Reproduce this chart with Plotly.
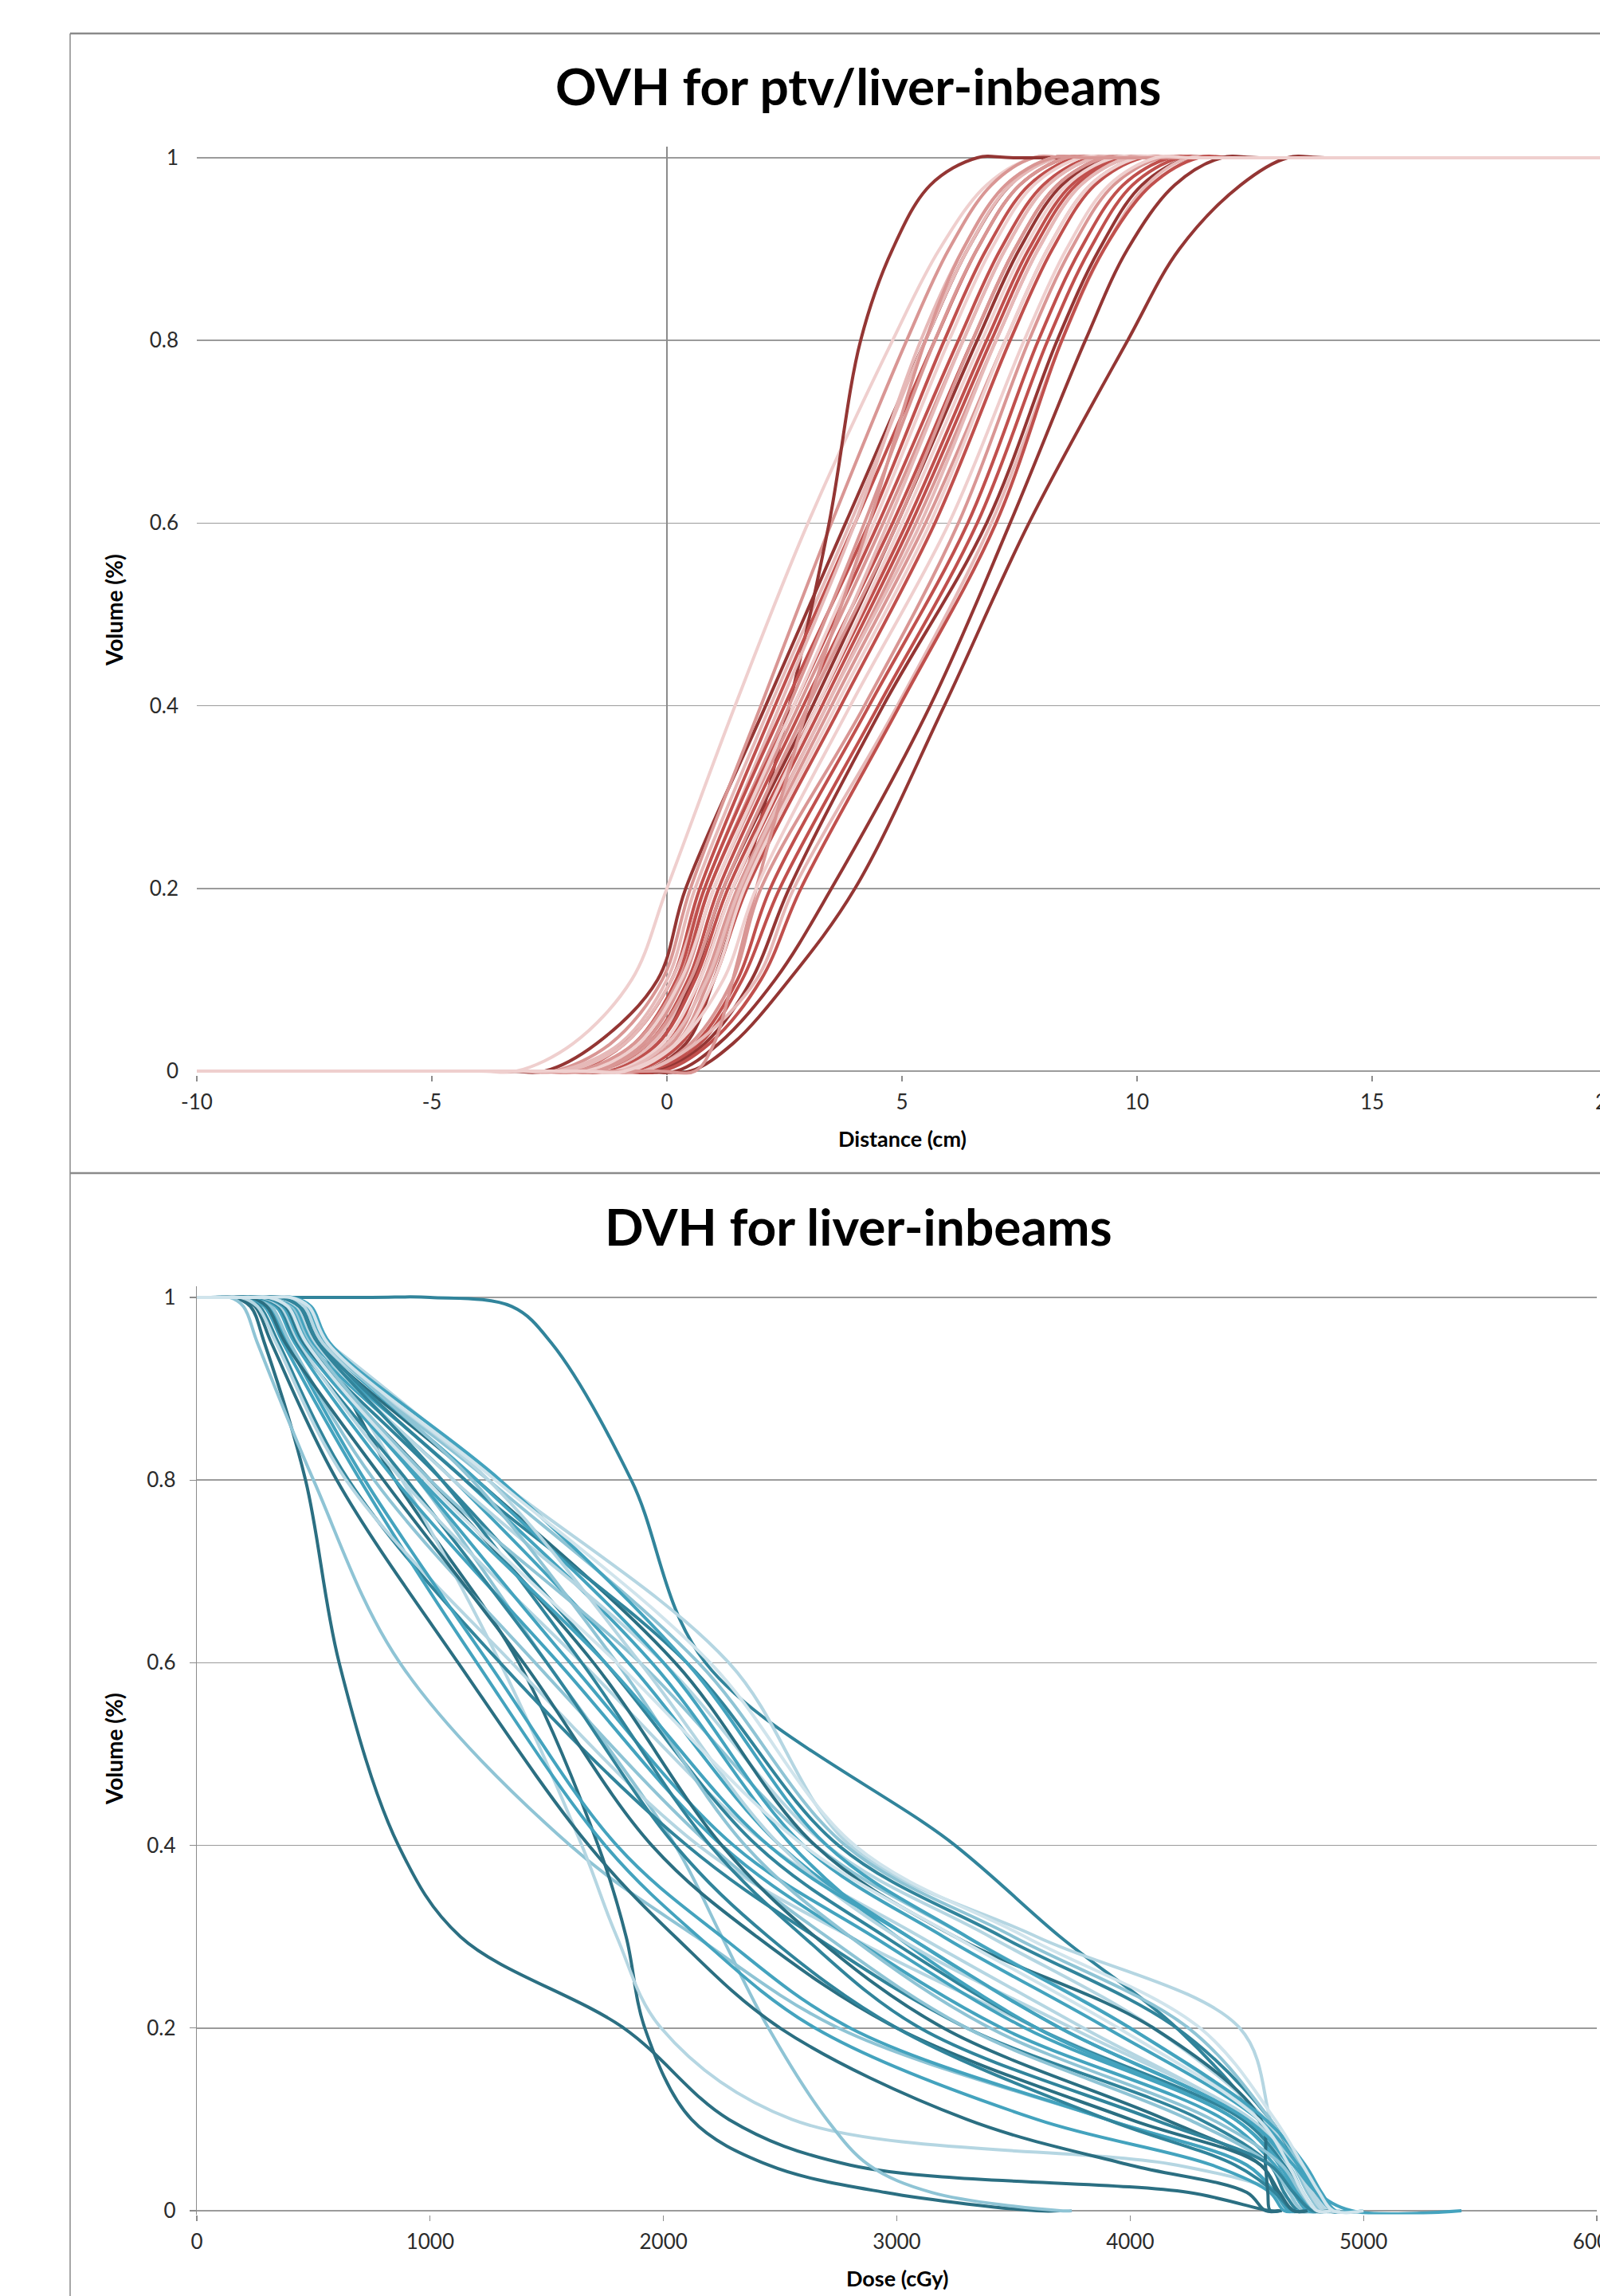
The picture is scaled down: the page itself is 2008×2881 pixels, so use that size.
import plotly.graph_objects as go

# ---------------- OVH (top chart) ----------------
# volume fraction levels shared by every OVH curve
OVH_VOLUME = [0, 0, 0, 0.03, 0.1, 0.2, 0.4, 0.6, 0.8, 0.9, 0.97, 1, 1, 1]
# distance (cm) at each of the levels above, one list per structure
OVH_01 = [-10, -4.0, -3.2, -2.0, -0.75, 0.0, 1.45, 3.0, 4.8, 5.8, 6.8, 7.8, 8.6, 20]
OVH_02 = [-10, -3.4, -2.6, -1.5, -0.2, 0.4, 2.1, 3.8, 5.5, 6.4, 7.3, 8.2, 9.0, 20]
OVH_03 = [-10, -3.2, -2.4, -1.2, -0.1, 0.5, 2.0, 3.5, 5.1, 6.0, 6.9, 7.8, 8.6, 20]
OVH_04 = [-10, -3.1, -2.3, -1.0, 0.0, 0.6, 2.2, 3.9, 5.5, 6.4, 7.3, 8.3, 9.1, 20]
OVH_05 = [-10, -1.3, -0.5, 0.4, 1.0, 1.6, 2.6, 3.45, 4.12, 4.8, 5.6, 6.6, 7.4, 20]
OVH_06 = [-10, -2.8, -2.0, -0.9, 0.1, 0.7, 2.3, 4.0, 5.7, 6.6, 7.5, 8.5, 9.3, 20]
OVH_07 = [-10, -2.9, -2.1, -0.9, 0.1, 0.8, 2.4, 4.0, 5.4, 6.3, 7.2, 8.2, 9.0, 20]
OVH_08 = [-10, -2.6, -1.8, -0.7, 0.2, 0.8, 2.5, 4.3, 5.9, 6.8, 7.7, 8.7, 9.5, 20]
OVH_09 = [-10, -2.7, -1.9, -0.7, 0.25, 0.9, 2.6, 4.2, 5.7, 6.6, 7.5, 8.5, 9.3, 20]
OVH_10 = [-10, -2.3, -1.5, -0.5, 0.3, 0.9, 2.7, 4.5, 6.2, 7.1, 8.0, 9.0, 9.8, 20]
OVH_11 = [-10, -2.4, -1.6, -0.5, 0.35, 1.0, 2.8, 4.6, 6.3, 7.2, 8.1, 9.1, 9.9, 20]
OVH_12 = [-10, -2.5, -1.7, -0.6, 0.3, 1.0, 2.7, 4.4, 6.0, 6.9, 7.8, 8.8, 9.6, 20]
OVH_13 = [-10, -2.2, -1.4, -0.4, 0.45, 1.1, 2.9, 4.8, 6.5, 7.4, 8.3, 9.3, 10.1, 20]
OVH_14 = [-10, -2.1, -1.3, -0.3, 0.5, 1.2, 3.0, 4.7, 6.3, 7.2, 8.1, 9.1, 9.9, 20]
OVH_15 = [-10, -2.0, -1.2, -0.2, 0.55, 1.2, 3.1, 4.9, 6.6, 7.5, 8.4, 9.4, 10.2, 20]
OVH_16 = [-10, -2.0, -1.2, -0.2, 0.6, 1.3, 3.2, 5.1, 6.8, 7.7, 8.6, 9.6, 10.4, 20]
OVH_17 = [-10, -2.3, -1.5, -0.4, 0.5, 1.2, 3.0, 4.9, 6.5, 7.4, 8.3, 9.3, 10.1, 20]
OVH_18 = [-10, -1.8, -1.0, 0.0, 0.7, 1.4, 3.3, 5.2, 6.9, 7.8, 8.7, 9.7, 10.5, 20]
OVH_19 = [-10, -1.9, -1.1, -0.1, 0.7, 1.4, 3.2, 5.0, 6.7, 7.6, 8.5, 9.5, 10.3, 20]
OVH_20 = [-10, -1.7, -0.9, 0.1, 0.8, 1.5, 3.4, 5.3, 7.0, 7.9, 8.8, 9.8, 10.6, 20]
OVH_21 = [-10, -1.6, -0.8, 0.2, 0.9, 1.6, 3.5, 5.5, 7.2, 8.1, 9.0, 10.0, 10.8, 20]
OVH_22 = [-10, -1.8, -1.0, 0.0, 0.85, 1.55, 3.4, 5.4, 7.0, 7.9, 8.8, 9.8, 10.6, 20]
OVH_23 = [-10, -1.5, -0.7, 0.3, 1.0, 1.7, 3.7, 5.7, 7.3, 8.2, 9.1, 10.1, 10.9, 20]
OVH_24 = [-10, -1.6, -0.8, 0.2, 1.0, 1.65, 3.6, 5.6, 7.2, 8.1, 9.0, 10.0, 10.8, 20]
OVH_25 = [-10, -1.3, -0.5, 0.5, 1.4, 2.0, 4.2, 6.2, 7.7, 8.6, 9.5, 10.5, 11.3, 20]
OVH_26 = [-10, -1.2, -0.4, 0.6, 1.5, 2.2, 4.3, 6.4, 7.9, 8.8, 9.7, 10.7, 11.5, 20]
OVH_27 = [-10, -1.1, -0.3, 0.7, 1.6, 2.4, 4.5, 6.6, 8.1, 9.0, 9.9, 10.9, 11.7, 20]
OVH_28 = [-10, -1.0, -0.2, 0.8, 1.8, 2.6, 4.6, 6.8, 8.3, 9.2, 10.1, 11.1, 11.9, 20]
OVH_29 = [-10, -1.3, -0.5, 0.6, 1.9, 2.7, 4.9, 6.9, 8.4, 9.3, 10.2, 11.1, 11.9, 20]
OVH_30 = [-10, -0.9, -0.1, 0.9, 2.0, 2.85, 4.95, 7.0, 8.4, 9.3, 10.3, 11.3, 12.1, 20]
OVH_31 = [-10, -0.6, 0.2, 1.1, 2.3, 3.5, 5.6, 7.3, 8.9, 9.8, 10.8, 11.8, 12.6, 20]
OVH_32 = [-10, -0.3, 0.5, 1.4, 2.6, 4.0, 5.9, 7.7, 9.8, 10.9, 12.2, 13.2, 14.0, 20]
OVH_33 = [-10, -0.2, 0.6, 1.0, 1.4, 1.9, 3.0, 4.3, 5.5, 6.3, 7.2, 8.2, 9.0, 20]
OVH_34 = [-10, -1.7, -0.9, 0.2, 1.2, 1.9, 3.9, 6.0, 7.6, 8.5, 9.4, 10.4, 11.2, 20]

OVH_CURVES = [OVH_01, OVH_02, OVH_03, OVH_04, OVH_05, OVH_06, OVH_07, OVH_08, OVH_09,
              OVH_10, OVH_11, OVH_12, OVH_13, OVH_14, OVH_15, OVH_16, OVH_17, OVH_18,
              OVH_19, OVH_20, OVH_21, OVH_22, OVH_23, OVH_24, OVH_25, OVH_26, OVH_27,
              OVH_28, OVH_29, OVH_30, OVH_31, OVH_32, OVH_33, OVH_34]
OVH_SHADE = [4, 0, 2, 3, 0, 1, 3, 1, 2, 1, 2, 4, 1, 3, 0, 1, 2, 1,
             4, 2, 2, 3, 1, 4, 2, 1, 1, 0, 3, 1, 0, 0, 2, 4]

OVH_X_TICKS = [-10, -5, 0, 5, 10, 15, 20]
OVH_X_LABELS = ["-10", "-5", "0", "5", "10", "15", "20"]

# ---------------- DVH (bottom chart) ----------------
DVH_VOLUME = [1, 1, 1, 0.99, 0.95, 0.8, 0.6, 0.4, 0.3, 0.2, 0.1, 0.05, 0.02, 0, 0]
# dose (cGy) at each of the levels above, one list per patient
DVH_01 = [0, 750, 1000, 1350, 1520, 1862, 2180, 3250, 3700, 4200, 4550, 4640, 4700, 4760, 4820]
DVH_02 = [0, 80, 160, 230, 290, 466, 610, 864, 1130, 1830, 2280, 2800, 4250, 4600, 4650]
DVH_03 = [0, 60, 140, 200, 260, 500, 870, 1600, 2140, 2750, 3900, 4500, 4620, 4700, 4760]
DVH_04 = [0, 200, 300, 400, 520, 850, 1380, 1720, 1840, 1920, 2120, 2450, 2950, 3600, 3700]
DVH_05 = [0, 200, 300, 400, 520, 880, 1300, 1650, 1800, 1990, 2550, 4200, 4640, 4740, 4800]
DVH_06 = [0, 180, 260, 350, 450, 950, 1500, 2050, 2250, 2450, 2700, 2880, 3150, 3700, 3750]
DVH_07 = [0, 150, 230, 330, 560, 1290, 2280, 2800, 3600, 4470, 4600, 4650, 4690, 4730, 4800]
DVH_08 = [0, 100, 180, 250, 320, 600, 1120, 1680, 2050, 2500, 3300, 4000, 4500, 4580, 4640]
DVH_09 = [0, 120, 200, 270, 350, 650, 1300, 2100, 2650, 3300, 4300, 4600, 4660, 4720, 4780]
DVH_10 = [0, 140, 220, 290, 370, 700, 1200, 1750, 2150, 2650, 3600, 4350, 4600, 4660, 4720]
DVH_11 = [0, 100, 190, 260, 340, 640, 1350, 2150, 2800, 3600, 4450, 4640, 4700, 4760, 4820]
DVH_12 = [0, 160, 240, 310, 390, 720, 1250, 1800, 2250, 2800, 3900, 4500, 4620, 4680, 4740]
DVH_13 = [0, 170, 250, 320, 400, 760, 1450, 2200, 2700, 3300, 4250, 4600, 4680, 4740, 4800]
DVH_14 = [0, 150, 230, 300, 380, 800, 1400, 1950, 2400, 3000, 4000, 4560, 4630, 4700, 4750]
DVH_15 = [0, 180, 260, 340, 420, 850, 1550, 2250, 2800, 3450, 4400, 4620, 4700, 4760, 4820]
DVH_16 = [0, 190, 270, 350, 430, 900, 1500, 2050, 2450, 3000, 3900, 4450, 4620, 4700, 4760]
DVH_17 = [0, 200, 280, 360, 440, 880, 1650, 2450, 3100, 3800, 4500, 4660, 4720, 4780, 4840]
DVH_18 = [0, 210, 290, 370, 450, 950, 1600, 2300, 2900, 3550, 4450, 4640, 4710, 4770, 4830]
DVH_19 = [0, 220, 300, 380, 460, 1000, 1700, 2250, 2650, 3200, 4150, 4560, 4640, 4700, 4760]
DVH_20 = [0, 220, 300, 385, 465, 1050, 1750, 2400, 2950, 3600, 4480, 4660, 4730, 4790, 4850]
DVH_21 = [0, 240, 320, 400, 480, 1100, 1850, 2500, 3050, 3700, 4500, 4680, 4740, 4800, 4860]
DVH_22 = [0, 250, 330, 410, 490, 1000, 1900, 2650, 3300, 4000, 4560, 4700, 4760, 4820, 4880]
DVH_23 = [0, 260, 340, 420, 500, 1150, 1950, 2550, 3000, 3600, 4450, 4650, 4720, 4790, 4850]
DVH_24 = [0, 270, 350, 430, 510, 1100, 2000, 2700, 3400, 4100, 4580, 4710, 4770, 4830, 4900]
DVH_25 = [0, 280, 360, 440, 520, 1200, 2050, 2650, 3250, 4100, 4560, 4580, 4590, 4600, 4640]
DVH_26 = [0, 290, 370, 450, 530, 1150, 2100, 2750, 3450, 4200, 4600, 4720, 4790, 4850, 4950]
DVH_27 = [0, 300, 380, 460, 540, 1250, 2150, 2780, 3500, 4250, 4600, 4730, 4800, 4860, 4950]
DVH_28 = [0, 310, 390, 470, 550, 1200, 2000, 2600, 3200, 3900, 4550, 4720, 4800, 4860, 4950]
DVH_29 = [0, 330, 410, 490, 570, 1300, 2100, 2700, 3300, 4000, 4580, 4750, 4820, 4880, 5000]
DVH_30 = [0, 300, 380, 460, 540, 1250, 1900, 2500, 3000, 3750, 4520, 4700, 4780, 4850, 4900]
DVH_31 = [0, 320, 400, 480, 560, 1180, 1800, 2350, 2800, 3400, 4350, 4650, 4730, 4800, 4860]
DVH_32 = [0, 280, 360, 440, 520, 1050, 1650, 2200, 2600, 3100, 4100, 4600, 4700, 4780, 4850]
DVH_33 = [0, 230, 310, 390, 470, 960, 1750, 2450, 3050, 3700, 4500, 4700, 4800, 4950, 5420]
DVH_34 = [0, 230, 310, 390, 470, 980, 1800, 2600, 3250, 3950, 4550, 4680, 4740, 4800, 4860]
DVH_35 = [0, 320, 400, 480, 560, 1280, 2200, 2820, 3550, 4300, 4620, 4740, 4810, 4870, 5000]

DVH_CURVES = [DVH_01, DVH_02, DVH_03, DVH_04, DVH_05, DVH_06, DVH_07, DVH_08, DVH_09,
              DVH_10, DVH_11, DVH_12, DVH_13, DVH_14, DVH_15, DVH_16, DVH_17, DVH_18,
              DVH_19, DVH_20, DVH_21, DVH_22, DVH_23, DVH_24, DVH_25, DVH_26, DVH_27,
              DVH_28, DVH_29, DVH_30, DVH_31, DVH_32, DVH_33, DVH_34, DVH_35]
DVH_SHADE = [1, 0, 3, 0, 4, 3, 4, 0, 1, 2, 4, 2, 3, 0, 2, 1, 4, 2,
             0, 1, 2, 3, 2, 4, 0, 1, 3, 2, 2, 4, 3, 1, 2, 5, 5]

DVH_X_TICKS = [0, 1000, 2000, 3000, 4000, 5000, 6000]
Y_TICKS = [0, 0.2, 0.4, 0.6, 0.8, 1]

# ---------------- styling ----------------
RED_SHADES = ["#943634", "#C0504D", "#D99694", "#E6B9B8", "#EFCFCE"]
TEAL_SHADES = ["#2B6F82", "#31849B", "#44A3BE", "#8FC4D5", "#B5D6E2", "#D0E4EC"]
GRID = "#9b9b9b"
AXIS = "#8c8c8c"
TXT = "#2b2b2b"
FONT = "Lato, 'Open Sans', sans-serif"
LW = 4.0

W, H = 2020, 2881


def pxx(v):
    return v / W


def pxy(v):
    return 1 - v / H


fig = go.Figure()

for xs, sh in zip(OVH_CURVES, OVH_SHADE):
    fig.add_trace(go.Scatter(
        x=xs, y=OVH_VOLUME, mode="lines", xaxis="x", yaxis="y",
        line=dict(color=RED_SHADES[sh], width=LW, shape="spline", smoothing=1.0),
        hoverinfo="skip", showlegend=False))

for xs, sh in zip(DVH_CURVES, DVH_SHADE):
    fig.add_trace(go.Scatter(
        x=xs, y=DVH_VOLUME, mode="lines", xaxis="x2", yaxis="y2",
        line=dict(color=TEAL_SHADES[sh], width=LW, shape="spline", smoothing=1.0),
        hoverinfo="skip", showlegend=False))

tickfont = dict(family=FONT, size=26, color=TXT)

fig.update_layout(
    width=W, height=H,
    margin=dict(l=0, r=0, t=0, b=0, pad=0, autoexpand=False),
    paper_bgcolor="white", plot_bgcolor="white",
    showlegend=False,
    font=dict(family=FONT, color=TXT),
    xaxis=dict(domain=[pxx(247), pxx(2017)], range=[-10, 20],
               tickvals=OVH_X_TICKS, ticktext=OVH_X_LABELS,
               showgrid=False, zeroline=True, zerolinecolor=AXIS, zerolinewidth=1.3,
               showline=False, ticks="outside", ticklen=7, tickwidth=1.3, tickcolor=AXIS,
               tickfont=tickfont, ticklabelstandoff=4, ticklabeloverflow="allow",
               anchor="y", automargin=False, fixedrange=True),
    yaxis=dict(domain=[pxy(1348.6), pxy(184.2)], range=[-0.004, 1.012], tickvals=Y_TICKS,
               showgrid=True, gridcolor=GRID, gridwidth=1.4,
               zeroline=True, zerolinecolor=GRID, zerolinewidth=1.4,
               showline=False, ticks="", tickfont=tickfont, ticklabelstandoff=22,
               anchor="x", automargin=False, fixedrange=True),
    xaxis2=dict(domain=[pxx(247), pxx(2004)], range=[0, 6000], tickvals=DVH_X_TICKS,
                showgrid=False, zeroline=False, showline=False,
                ticks="outside", ticklen=7, tickwidth=1.3, tickcolor=AXIS,
                tickfont=tickfont, ticklabelstandoff=4, ticklabeloverflow="allow",
                anchor="y2", automargin=False, fixedrange=True),
    yaxis2=dict(domain=[pxy(2778.6), pxy(1614.2)], range=[-0.004, 1.012], tickvals=Y_TICKS,
                showgrid=True, gridcolor=GRID, gridwidth=1.4,
                zeroline=True, zerolinecolor=GRID, zerolinewidth=1.4,
                showline=True, linecolor=AXIS, linewidth=1.3,
                ticks="outside", ticklen=8, tickwidth=1.3, tickcolor=AXIS,
                tickfont=tickfont, ticklabelstandoff=12,
                anchor="x2", automargin=False, fixedrange=True),
)

annots = [
    dict(text="<b>OVH for ptv/liver-inbeams</b>", x=pxx(1077), y=pxy(108), size=64),
    dict(text="<b>DVH for liver-inbeams</b>", x=pxx(1077), y=pxy(1538), size=64),
    dict(text="<b>Distance (cm)</b>", x=pxx(1132), y=pxy(1428), size=27),
    dict(text="<b>Dose (cGy)</b>", x=pxx(1126), y=pxy(2858), size=27),
]
for a in annots:
    fig.add_annotation(text=a["text"], x=a["x"], y=a["y"], xref="paper", yref="paper",
                       xanchor="center", yanchor="middle", showarrow=False,
                       font=dict(family=FONT, size=a["size"], color="#000000"))
for yc in (766, 2195):
    fig.add_annotation(text="<b>Volume (%)</b>", x=pxx(143), y=pxy(yc), xref="paper", yref="paper",
                       xanchor="center", yanchor="middle", showarrow=False, textangle=-90,
                       font=dict(family=FONT, size=28, color="#000000"))

FRAME = "#8a8a8a"
fig.add_shape(type="line", xref="paper", yref="paper", x0=pxx(88), x1=1.0, y0=pxy(42), y1=pxy(42),
              line=dict(color=FRAME, width=2.5))
fig.add_shape(type="line", xref="paper", yref="paper", x0=pxx(88), x1=1.0, y0=pxy(1472), y1=pxy(1472),
              line=dict(color=FRAME, width=2.5))
fig.add_shape(type="line", xref="paper", yref="paper", x0=pxx(88), x1=pxx(88), y0=pxy(42), y1=0,
              line=dict(color=FRAME, width=1.5))

fig.write_html("out.html", config={"displayModeBar": False, "staticPlot": True},
               post_script="document.body.style.margin='0';document.body.style.overflow='hidden';")
